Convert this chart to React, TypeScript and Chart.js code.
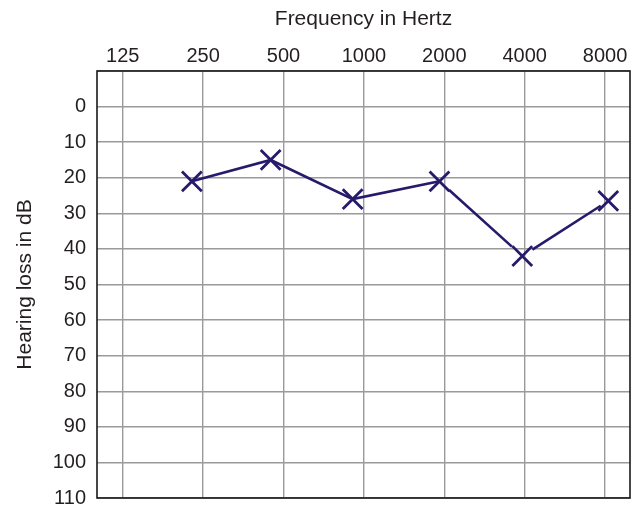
import React, { useEffect, useRef } from 'react';
import { Chart, registerables } from 'chart.js';

Chart.register(...registerables);

// Frequency tick labels (one per octave, positions 0..6 on the octave axis)
const frequencyLabels = ['125', '250', '500', '1000', '2000', '4000', '8000'];
const octavePositions = [0, 1, 2, 3, 4, 5, 6];
// Hearing-loss tick values (dB); -10 is the blank top row
const hearingLossTicks = [-10, 0, 10, 20, 30, 40, 50, 60, 70, 80, 90, 100, 110];
// Measured points: octave position (as placed in the picture) and hearing loss (dB)
const markerOctave = [0.86, 1.84, 2.86, 3.94, 4.97, 6.04];
const hearingLoss = [21, 15, 26, 21, 42, 26.5];

const FONT = "'Liberation Sans', Arial, Helvetica, sans-serif";
const TEXT = '#231f20';
const LINE = '#261a6b';
// Line-style detail: pixel gaps left at the start / end of each connecting segment
const SEG_GAP_START = [0, 0, 0, 13, 12];
const SEG_GAP_END = [0, 0, 0, 14, 9];

const segLen = (c: any) => Math.hypot(c.p1.x - c.p0.x, c.p1.y - c.p0.y);

const frameBorder = {
  id: 'frameBorder',
  beforeDatasetsDraw(chart: any) {
    const { ctx, chartArea: a } = chart;
    ctx.save();
    ctx.strokeStyle = '#1a1a1a';
    ctx.lineWidth = 1.6;
    ctx.strokeRect(a.left, a.top, a.right - a.left, a.bottom - a.top);
    ctx.restore();
  },
};

export default function App() {
  const ref = useRef<HTMLCanvasElement | null>(null);

  useEffect(() => {
    if (!ref.current) return;
    const chart = new Chart(ref.current, {
      type: 'line',
      data: {
        datasets: [
          {
            data: markerOctave.map((x, i) => ({ x, y: hearingLoss[i] })),
            borderColor: LINE,
            borderWidth: 2.6,
            pointStyle: 'crossRot',
            pointRadius: 14,
            pointBorderWidth: 2.8,
            pointBorderColor: LINE,
            pointBackgroundColor: LINE,
            tension: 0,
            fill: false,
            clip: false,
            segment: {
              borderDash: (c: any) => {
                const i = c.p0DataIndex;
                const g1 = SEG_GAP_START[i] || 0;
                const g2 = SEG_GAP_END[i] || 0;
                if (!g1 && !g2) return undefined;
                const L = segLen(c);
                return [Math.max(L - g1 - g2, 0), g1 + g2];
              },
              borderDashOffset: (c: any) => {
                const i = c.p0DataIndex;
                const g1 = SEG_GAP_START[i] || 0;
                const g2 = SEG_GAP_END[i] || 0;
                if (!g1 && !g2) return undefined;
                return segLen(c) - g1;
              },
            },
          },
        ],
      },
      options: {
        responsive: false,
        animation: false,
        events: [],
        layout: { padding: 0, autoPadding: false },
        plugins: { legend: { display: false }, tooltip: { enabled: false } },
        scales: {
          x: {
            type: 'linear',
            position: 'top',
            min: -0.32,
            max: 6.31,
            afterBuildTicks: (s: any) => {
              s.ticks = octavePositions.map((v) => ({ value: v }));
            },
            afterFit: (s: any) => {
              s.height = 71;
              s.paddingLeft = 0;
              s.paddingRight = 11;
            },
            ticks: {
              padding: 3,
              color: TEXT,
              font: { family: FONT, size: 20 },
              maxRotation: 0,
              autoSkip: false,
              callback: (v: any) => frequencyLabels[octavePositions.indexOf(Number(v))] ?? '',
            },
            grid: { color: '#9a9a9a', lineWidth: 1.4, drawTicks: false },
            border: { display: false },
            title: {
              display: true,
              text: 'Frequency in Hertz',
              color: TEXT,
              font: { family: FONT, size: 21 },
              padding: { top: 7, bottom: 0 },
            },
          },
          y: {
            type: 'linear',
            reverse: true,
            min: -10,
            max: 110,
            afterBuildTicks: (s: any) => {
              s.ticks = hearingLossTicks.map((v) => ({ value: v }));
            },
            afterFit: (s: any) => {
              s.width = 97;
              s.paddingTop = 0;
              s.paddingBottom = 10;
            },
            ticks: {
              padding: 11,
              color: TEXT,
              font: { family: FONT, size: 20 },
              autoSkip: false,
              callback: (v: any) => (Number(v) < 0 ? '' : String(v)),
            },
            grid: { color: '#9a9a9a', lineWidth: 1.4, drawTicks: false },
            border: { display: false },
            title: {
              display: true,
              text: 'Hearing loss in dB',
              color: TEXT,
              font: { family: FONT, size: 21 },
              padding: { top: 13, bottom: 0 },
            },
          },
        },
      },
      plugins: [frameBorder],
    });
    return () => chart.destroy();
  }, []);

  return (
    <div style={{ position: 'fixed', left: 0, top: 0, width: 641, height: 508, background: '#fff' }}>
      <canvas ref={ref} width={641} height={508} style={{ display: 'block' }} />
    </div>
  );
}
